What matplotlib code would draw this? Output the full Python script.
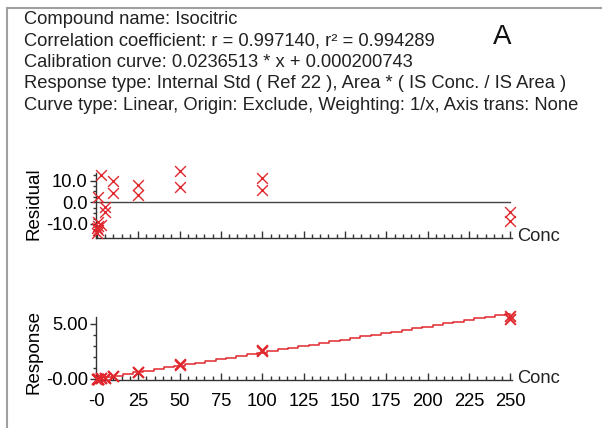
import numpy as np
import matplotlib.pyplot as plt
from matplotlib.patches import Rectangle
from matplotlib.ticker import MultipleLocator

plt.rcParams['font.family'] = ['Liberation Sans', 'DejaVu Sans']

# calibration levels (two injections each)
conc = [0.1, 0.1, 0.5, 0.5, 1, 1, 2.5, 2.5, 5, 5,
        10, 10, 25, 25, 50, 50, 100, 100, 250, 250]
residual = [-14, -12, -11, -9, 2.5, -13, 12.5, -10.5, -2, -4.5,
            10, 4.5, 8, 3.5, 14.5, 7, 11, 5.5, -4.5, -8.5]
response = [0.0022, 0.0023, 0.0107, 0.0109, 0.0244, 0.0208, 0.0667, 0.0531,
            0.1161, 0.1132, 0.2604, 0.2474, 0.6388, 0.6122, 1.3543, 1.2656,
            2.6255, 2.4954, 5.6469, 5.4104]

slope = 0.0236513
intercept = 0.000200743

header = [
    "Compound name: Isocitric",
    "Correlation coefficient: r = 0.997140, r² = 0.994289",
    "Calibration curve: 0.0236513 * x + 0.000200743",
    "Response type: Internal Std ( Ref 22 ), Area * ( IS Conc. / IS Area )",
    "Curve type: Linear, Origin: Exclude, Weighting: 1/x, Axis trans: None",
]

x_ticks = [0, 25, 50, 75, 100, 125, 150, 175, 200, 225, 250]
x_labels = ['-0', '25', '50', '75', '100', '125', '150', '175', '200', '225', '250']
res_ticks = [-10, 0, 10]
res_labels = ['-10.0', '0.0', '10.0']
resp_ticks = [0, 5]
resp_labels = ['-0.00', '5.00']

W, H = 602, 428
red = '#e0282e'
fs = 13.2

fig = plt.figure(figsize=(W / 100, H / 100), dpi=100)


def fx(px):
    return px / W


def fy(py):
    return 1 - py / H


# outer frame
fig.patches.append(Rectangle((fx(7), fy(H + 10)), 1.0, fy(8) - fy(H + 10),
                             transform=fig.transFigure, fill=False,
                             edgecolor='#a0a0a0', lw=1.5))

for i, line in enumerate(header):
    fig.text(fx(24), fy(19 + i * 21.6), line, fontsize=fs, va='center',
             color='#222222')
fig.text(fx(502), fy(37), 'A', fontsize=20, va='center', ha='center',
         color='#111111')


def style_axis(ax):
    for s in ['top', 'right']:
        ax.spines[s].set_visible(False)
    for s in ['left', 'bottom']:
        ax.spines[s].set_color('#333333')
        ax.spines[s].set_linewidth(1.0)
    ax.set_xlim(-0.5, 251)
    ax.set_xticks(x_ticks)
    ax.xaxis.set_minor_locator(MultipleLocator(5))
    ax.tick_params(axis='x', which='major', direction='in', length=5,
                   width=1, color='#333333', labelsize=fs, pad=9)
    ax.tick_params(axis='x', which='minor', direction='in', length=3,
                   width=1, color='#333333')
    ax.tick_params(axis='y', which='major', direction='out', length=4,
                   width=1, color='#333333', labelsize=fs, pad=2)
    ax.tick_params(axis='y', which='minor', direction='out', length=2.5,
                   width=1, color='#333333')
    ax.text(1.012, 0.03, 'Conc', transform=ax.transAxes, fontsize=fs,
            va='center', ha='left', color='#222222')


# residual panel
ax1 = fig.add_axes([fx(96), fy(238), fx(512) - fx(96), fy(173) - fy(238)])
style_axis(ax1)
ax1.set_ylim(-16.5, 13.5)
ax1.set_yticks(res_ticks)
ax1.set_yticklabels(res_labels)
ax1.yaxis.set_minor_locator(MultipleLocator(2.5))
ax1.set_xticklabels([])
ax1.plot([0, 250], [0, 0], color='#444444', lw=1.0)
ax1.scatter(conc, residual, marker='x', s=60, color=red, linewidths=1.0,
            clip_on=False, zorder=3)
ax1.set_ylabel('Residual', fontsize=fs + 0.3)
ax1.yaxis.set_label_coords(-0.128, 0.53)

# response panel
ax2 = fig.add_axes([fx(96), fy(380), fx(512) - fx(96), fy(317) - fy(380)])
style_axis(ax2)
ax2.set_ylim(-0.1, 5.6)
ax2.set_yticks(resp_ticks)
ax2.set_yticklabels(resp_labels)
ax2.yaxis.set_minor_locator(MultipleLocator(1))
ax2.set_xticklabels(x_labels)
x_fit = np.arange(0, 251, 6.25)
ax2.plot(x_fit, slope * x_fit + intercept, color=red, lw=1.1,
         drawstyle='steps-mid', clip_on=False)
ax2.scatter(conc, response, marker='x', s=60, color=red, linewidths=1.4,
            clip_on=False, zorder=3)
ax2.set_ylabel('Response', fontsize=fs + 0.3)
ax2.yaxis.set_label_coords(-0.128, 0.45)

fig.savefig('out.png', dpi=100)
